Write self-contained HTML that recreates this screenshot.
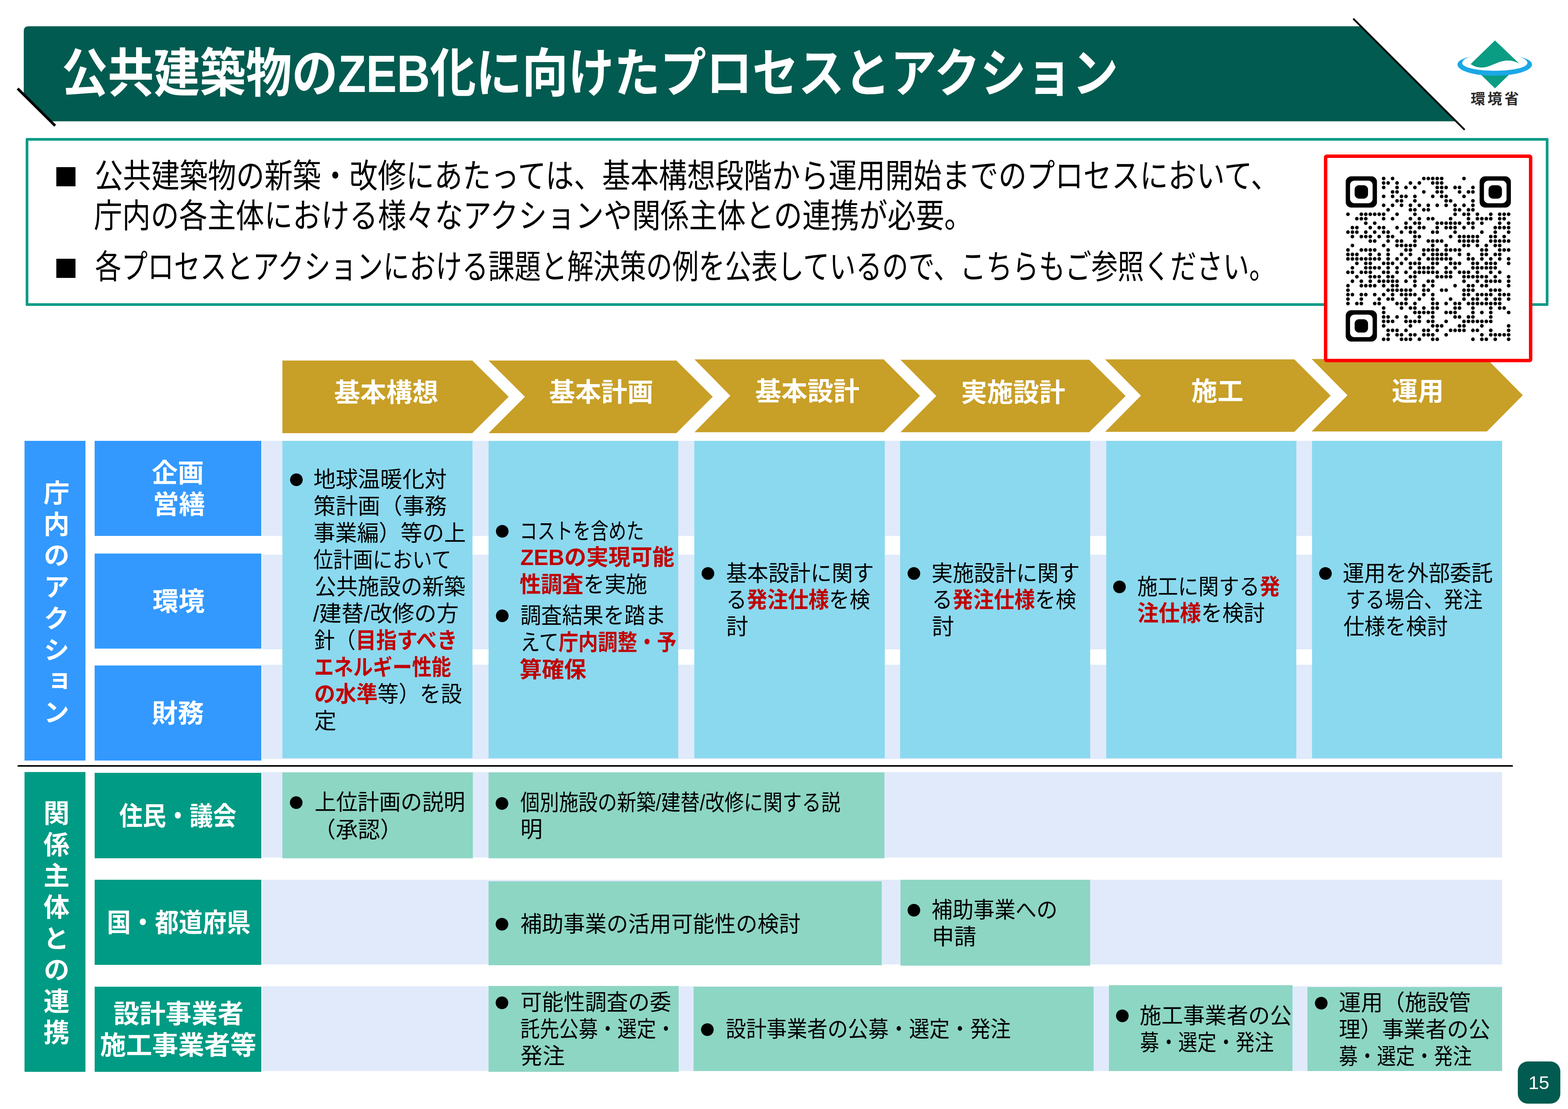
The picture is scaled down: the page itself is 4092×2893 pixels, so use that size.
<!DOCTYPE html>
<html lang="ja"><head><meta charset="utf-8"><title>公共建築物のZEB化に向けたプロセスとアクション</title>
<style>
html,body{margin:0;padding:0;background:#fff}
body{width:4092px;height:2893px;position:relative;overflow:hidden;font-family:"Liberation Sans",sans-serif}
#s div{position:absolute}
svg{position:absolute;left:0;top:0}
.pg{color:#fff;font-size:49px;line-height:110px;text-align:center}
#t span{position:absolute;white-space:pre;line-height:1;color:#000;font-family:"Liberation Sans","Noto Sans CJK JP",sans-serif;transform-origin:0 0}
#t b{color:#c00000;font-weight:700}
</style></head><body>
<div id="s">
<div style="left:67px;top:360px;width:3974px;height:438px;background:#fff;box-sizing:border-box;border:7px solid #0d9b87;border-radius:3px"></div>
<div style="left:146.5px;top:436px;width:50.0px;height:50px;background:#000;"></div>
<div style="left:146.5px;top:675px;width:50.0px;height:50px;background:#000;"></div>
<div style="left:64px;top:1150px;width:158.5px;height:833.5px;background:#3399ff;"></div>
<div style="left:246.5px;top:1150px;width:435.0px;height:247.5px;background:#3399ff;"></div>
<div style="left:246.5px;top:1443.5px;width:435.0px;height:248.0px;background:#3399ff;"></div>
<div style="left:246.5px;top:1736px;width:435.0px;height:247.5px;background:#3399ff;"></div>
<div style="left:684px;top:1150px;width:3236px;height:247.5px;background:#e0eafb;"></div>
<div style="left:684px;top:1447px;width:3236px;height:247px;background:#e0eafb;"></div>
<div style="left:684px;top:1733.5px;width:3236px;height:246.5px;background:#e0eafb;"></div>
<div style="left:737px;top:1150px;width:495.5px;height:827.5px;background:#8bd9ef;"></div>
<div style="left:1275px;top:1150px;width:495px;height:827.5px;background:#8bd9ef;"></div>
<div style="left:1811.5px;top:1150px;width:497.5px;height:827.5px;background:#8bd9ef;"></div>
<div style="left:2349px;top:1150px;width:496px;height:827.5px;background:#8bd9ef;"></div>
<div style="left:2886.5px;top:1150px;width:496.5px;height:827.5px;background:#8bd9ef;"></div>
<div style="left:3424px;top:1150px;width:496px;height:827.5px;background:#8bd9ef;"></div>
<div style="left:46px;top:1996px;width:3901.5px;height:3.7999999999999545px;background:#000;"></div>
<div style="left:64px;top:2014px;width:158.5px;height:782px;background:#009b84;"></div>
<div style="left:246.5px;top:2016px;width:435.0px;height:223px;background:#009b84;"></div>
<div style="left:246.5px;top:2295px;width:435.0px;height:222px;background:#009b84;"></div>
<div style="left:246.5px;top:2573.5px;width:435.0px;height:222.5px;background:#009b84;"></div>
<div style="left:684px;top:2014px;width:3236px;height:222.5px;background:#e0eafb;"></div>
<div style="left:684px;top:2295px;width:3236px;height:221px;background:#e0eafb;"></div>
<div style="left:684px;top:2572.5px;width:3236px;height:221.0px;background:#e0eafb;"></div>
<div style="left:737px;top:2015px;width:496.5px;height:223.5px;background:#8dd6c4;"></div>
<div style="left:1275px;top:2015px;width:1032.5px;height:224px;background:#8dd6c4;"></div>
<div style="left:1275px;top:2298.5px;width:1026px;height:219.0px;background:#8dd6c4;"></div>
<div style="left:2349.5px;top:2295px;width:495.5px;height:224px;background:#8dd6c4;"></div>
<div style="left:1275px;top:2572px;width:495.5px;height:224px;background:#8dd6c4;"></div>
<div style="left:1810px;top:2573.5px;width:1044px;height:220.0px;background:#8dd6c4;"></div>
<div style="left:2893.5px;top:2570px;width:479.0px;height:223.5px;background:#8dd6c4;"></div>
<div style="left:3411.5px;top:2575px;width:508.5px;height:218.5px;background:#8dd6c4;"></div>
<div class="pg" style="left:3960.5px;top:2768.5px;width:111px;height:110px;background:#025b50;border-radius:26px">15</div>
</div>
<svg width="4092" height="2893" viewBox="0 0 4092 2893">
<path fill="#025b50" d="M75 68.5H3551L3799.5 316.5H137L62 245.5V81.5Q62 68.5 75 68.5z"/>
<path stroke="#000" stroke-width="7" d="M46 231L144 328"/>
<path stroke="#000" stroke-width="4.7" d="M3531.6 48.7L3822.3 338.7"/>
<g><path fill="#0b9c84" d="M3901.4 105.4L3964.8 165.8C3950 158 3938 157.5 3927 158.5C3912 160 3896 170 3880 174.5C3866 178 3850 176 3838 167z"/><path fill="#0b9c84" d="M3862 192L3901.4 230.4L3941 192z"/><path fill="#1ba8e6" d="M3839.5 147.5C3812 153 3803.5 161 3803.5 168C3803.5 185 3847 197.5 3900.7 197.5C3954.4 197.5 3998 185 3998 168C3998 161 3989 153 3962 147.5C3980 152 3986 158.5 3986 164.5C3986 176 3948 184.5 3900.7 184.5C3853.4 184.5 3816 176 3816 164.5C3816 158.5 3822 152 3839.5 147.5z"/></g>
<path fill="#c89f27" d="M737 940.5L1232.5 940.5L1327.5 1035L1232.5 1130L737 1130z"/>
<path fill="#c89f27" d="M1275 940.5L1765 940.5L1860 1035L1765 1130L1275 1130L1370 1035z"/>
<path fill="#c89f27" d="M1812.5 937.5L2306 937.5L2401 1032.5L2306 1127.5L1812.5 1127.5L1906 1032.5z"/>
<path fill="#c89f27" d="M2350 938.5L2842.5 938.5L2937.5 1033L2842.5 1127.5L2350 1127.5L2443.5 1033z"/>
<path fill="#c89f27" d="M2884 937.5L3378 937.5L3472.5 1032L3378 1126.5L2884 1126.5L2977.5 1032z"/>
<path fill="#c89f27" d="M3423 936.5L3880.5 936.5L3974 1031L3880.5 1125.5L3423 1125.5L3516.5 1031z"/>
<rect x="3459.5" y="407.5" width="535" height="533" rx="3" fill="#fff" stroke="#ff0000" stroke-width="9"/>
<g><g transform="translate(3511.9 459.9) scale(11.6486)"><path transform="translate(.5 .5)" fill="none" stroke="#000" stroke-width="0.82" stroke-linecap="round" d="M8 0h0m2 0h0m7 0h0m1 0h0m1 0h0m1 0h0m1 0h0m5 0h0M8 1h0m1 0h0m2 0h0m3 0h0m2 0h0m3 0h0m1 0h0m1 0h0M8 2h0m3 0h0m2 0h0m2 0h0m5 0h0m1 0h0m1 0h0m2 0h0m1 0h0m3 0h0M10 3h0m1 0h0m6 0h0m3 0h0m1 0h0m4 0h0m2 0h0m1 0h0M8 4h0m2 0h0m2 0h0m1 0h0m2 0h0m4 0h0m2 0h0m1 0h0m4 0h0M11 5h0m1 0h0m3 0h0m7 0h0m1 0h0m5 0h0M8 6h0m2 0h0m2 0h0m2 0h0m2 0h0m2 0h0m2 0h0m2 0h0m2 0h0m2 0h0m2 0h0M9 7h0m5 0h0m1 0h0m2 0h0m1 0h0m6 0h0m1 0h0m2 0h0m1 0h0M0 8h0m3 0h0m1 0h0m1 0h0m1 0h0m1 0h0m1 0h0m3 0h0m4 0h0m9 0h0m2 0h0m1 0h0m2 0h0m3 0h0m2 0h0m1 0h0m1 0h0M2 9h0m1 0h0m1 0h0m4 0h0m2 0h0m4 0h0m2 0h0m2 0h0m1 0h0m4 0h0m4 0h0m2 0h0m1 0h0m1 0h0m1 0h0m2 0h0m1 0h0M4 10h0m2 0h0m7 0h0m2 0h0m1 0h0m4 0h0m1 0h0m1 0h0m1 0h0m1 0h0m1 0h0m2 0h0m1 0h0m2 0h0m4 0h0m2 0h0M1 11h0m1 0h0m3 0h0m2 0h0m1 0h0m3 0h0m2 0h0m1 0h0m2 0h0m1 0h0m3 0h0m2 0h0m1 0h0m1 0h0m2 0h0m2 0h0m5 0h0m1 0h0m1 0h0m1 0h0M0 12h0m1 0h0m1 0h0m2 0h0m2 0h0m2 0h0m1 0h0m3 0h0m2 0h0m1 0h0m4 0h0m1 0h0m4 0h0m6 0h0m3 0h0m3 0h0M1 13h0m2 0h0m1 0h0m1 0h0m2 0h0m2 0h0m1 0h0m5 0h0m1 0h0m7 0h0m2 0h0m1 0h0m1 0h0m1 0h0m1 0h0m3 0h0m1 0h0m2 0h0M5 14h0m1 0h0m3 0h0m2 0h0m1 0h0m3 0h0m3 0h0m1 0h0m1 0h0m1 0h0m4 0h0m1 0h0m1 0h0m1 0h0m1 0h0m3 0h0m1 0h0m1 0h0m1 0h0m1 0h0M1 15h0m7 0h0m3 0h0m1 0h0m1 0h0m1 0h0m1 0h0m4 0h0m3 0h0m4 0h0m1 0h0m2 0h0m2 0h0m2 0h0m1 0h0M0 16h0m3 0h0m1 0h0m1 0h0m1 0h0m3 0h0m4 0h0m1 0h0m3 0h0m1 0h0m1 0h0m1 0h0m2 0h0m1 0h0m1 0h0m1 0h0m5 0h0m1 0h0m3 0h0m1 0h0m1 0h0M0 17h0m1 0h0m1 0h0m3 0h0m2 0h0m2 0h0m3 0h0m2 0h0m3 0h0m2 0h0m1 0h0m1 0h0m1 0h0m3 0h0m2 0h0m3 0h0m1 0h0m2 0h0m1 0h0M0 18h0m1 0h0m1 0h0m1 0h0m1 0h0m1 0h0m1 0h0m1 0h0m2 0h0m2 0h0m2 0h0m3 0h0m2 0h0m1 0h0m1 0h0m1 0h0m1 0h0m1 0h0m4 0h0m1 0h0m2 0h0m2 0h0m2 0h0m2 0h0M2 19h0m2 0h0m1 0h0m3 0h0m1 0h0m1 0h0m2 0h0m2 0h0m1 0h0m1 0h0m3 0h0m1 0h0m3 0h0m1 0h0m1 0h0m3 0h0m1 0h0m2 0h0m1 0h0m1 0h0m3 0h0M1 20h0m3 0h0m1 0h0m1 0h0m1 0h0m2 0h0m2 0h0m3 0h0m2 0h0m1 0h0m1 0h0m1 0h0m3 0h0m2 0h0m4 0h0m1 0h0m1 0h0m1 0h0m1 0h0m1 0h0M0 21h0m1 0h0m2 0h0m1 0h0m1 0h0m3 0h0m1 0h0m2 0h0m2 0h0m2 0h0m1 0h0m1 0h0m1 0h0m1 0h0m1 0h0m2 0h0m1 0h0m2 0h0m1 0h0m1 0h0m2 0h0m3 0h0m2 0h0M2 22h0m3 0h0m1 0h0m1 0h0m2 0h0m1 0h0m4 0h0m1 0h0m5 0h0m1 0h0m1 0h0m1 0h0m3 0h0m1 0h0m1 0h0m1 0h0m1 0h0m1 0h0m2 0h0m3 0h0M1 23h0m2 0h0m2 0h0m2 0h0m1 0h0m1 0h0m1 0h0m1 0h0m2 0h0m2 0h0m3 0h0m1 0h0m7 0h0m3 0h0m2 0h0m1 0h0m1 0h0m1 0h0m2 0h0M0 24h0m3 0h0m1 0h0m1 0h0m1 0h0m2 0h0m2 0h0m1 0h0m4 0h0m2 0h0m2 0h0m5 0h0m3 0h0m1 0h0m2 0h0m1 0h0m5 0h0M0 25h0m9 0h0m1 0h0m1 0h0m1 0h0m1 0h0m1 0h0m3 0h0m1 0h0m3 0h0m1 0h0m4 0h0m1 0h0m1 0h0m4 0h0m1 0h0m1 0h0M0 26h0m1 0h0m2 0h0m1 0h0m2 0h0m2 0h0m2 0h0m2 0h0m1 0h0m1 0h0m1 0h0m2 0h0m2 0h0m7 0h0m1 0h0m2 0h0m1 0h0m1 0h0m1 0h0m2 0h0m1 0h0m1 0h0M0 27h0m3 0h0m4 0h0m2 0h0m1 0h0m3 0h0m3 0h0m3 0h0m4 0h0m3 0h0m2 0h0m1 0h0m2 0h0m2 0h0m1 0h0m2 0h0M0 28h0m2 0h0m1 0h0m3 0h0m1 0h0m4 0h0m1 0h0m1 0h0m2 0h0m4 0h0m1 0h0m2 0h0m2 0h0m1 0h0m2 0h0m1 0h0m1 0h0m1 0h0m1 0h0m1 0h0m1 0h0m1 0h0M8 29h0m4 0h0m2 0h0m1 0h0m2 0h0m2 0h0m1 0h0m4 0h0m1 0h0m3 0h0m4 0h0m2 0h0m1 0h0M8 30h0m7 0h0m1 0h0m1 0h0m1 0h0m1 0h0m3 0h0m1 0h0m1 0h0m4 0h0m2 0h0m2 0h0m4 0h0M8 31h0m1 0h0m2 0h0m2 0h0m3 0h0m3 0h0m5 0h0m1 0h0m2 0h0m1 0h0m4 0h0M8 32h0m1 0h0m1 0h0m3 0h0m1 0h0m1 0h0m1 0h0m2 0h0m1 0h0m3 0h0m4 0h0m1 0h0m1 0h0m1 0h0m1 0h0m1 0h0m1 0h0M8 33h0m6 0h0m5 0h0m1 0h0m1 0h0m4 0h0m1 0h0m4 0h0m6 0h0M9 34h0m1 0h0m1 0h0m2 0h0m4 0h0m1 0h0m2 0h0m3 0h0m1 0h0m1 0h0m1 0h0m2 0h0m1 0h0m3 0h0m4 0h0M9 35h0m2 0h0m1 0h0m2 0h0m1 0h0m2 0h0m1 0h0m1 0h0m3 0h0m8 0h0m2 0h0m1 0h0m1 0h0m1 0h0m1 0h0M8 36h0m1 0h0m3 0h0m1 0h0m1 0h0m2 0h0m3 0h0m1 0h0m8 0h0m2 0h0m1 0h0m2 0h0m3 0h0"/><rect x="0" y="0" width="7" height="7" rx="1.25"/><rect x="0.97" y="0.97" width="5.06" height="5.06" rx="1" fill="#fff"/><rect x="2" y="2" width="3" height="3" rx="1"/><rect x="30" y="0" width="7" height="7" rx="1.25"/><rect x="30.97" y="0.97" width="5.06" height="5.06" rx="1" fill="#fff"/><rect x="32" y="2" width="3" height="3" rx="1"/><rect x="0" y="30" width="7" height="7" rx="1.25"/><rect x="0.97" y="30.97" width="5.06" height="5.06" rx="1" fill="#fff"/><rect x="2" y="32" width="3" height="3" rx="1"/></g></g>
<g fill="#000"><circle cx="773.5" cy="1251.5" r="16.5"/><circle cx="1310.7" cy="1386" r="16.5"/><circle cx="1310.7" cy="1606.4" r="16.5"/><circle cx="1847.5" cy="1496" r="16.5"/><circle cx="2385" cy="1496" r="16.5"/><circle cx="2921.5" cy="1531" r="16.5"/><circle cx="3459" cy="1496" r="16.5"/><circle cx="773" cy="2093.75" r="16.5"/><circle cx="1310" cy="2096" r="16.5"/><circle cx="1310" cy="2411" r="16.5"/><circle cx="2385" cy="2374.5" r="16.5"/><circle cx="1310" cy="2616" r="16.5"/><circle cx="1846" cy="2686" r="16.5"/><circle cx="2929" cy="2650" r="16.5"/><circle cx="3448" cy="2617" r="16.5"/></g>
</svg>
<div id="t">
<span style="left:161px;top:124px;font-size:137px;font-weight:700;color:#fff;transform:scaleX(0.877)">公共建築物のZEB化に向けたプロセスとアクション</span>
<span style="left:3838px;top:239px;font-size:38px;font-weight:700;color:#2b2b2b;letter-spacing:6px">環境省</span>
<span style="left:247px;top:416px;font-size:87px;transform:scaleX(0.849)">公共建築物の新築・改修にあたっては、基本構想段階から運用開始までのプロセスにおいて、</span>
<span style="left:245px;top:520px;font-size:87px;transform:scaleX(0.852)">庁内の各主体における様々なアクションや関係主体との連携が必要。</span>
<span style="left:248px;top:653px;font-size:87px;transform:scaleX(0.789)">各プロセスとアクションにおける課題と解決策の例を公表しているので、こちらもご参照ください。</span>
<span style="left:872px;top:990px;font-size:68px;font-weight:700;color:#fff">基本構想</span>
<span style="left:1433px;top:989px;font-size:68px;font-weight:700;color:#fff">基本計画</span>
<span style="left:1971px;top:987px;font-size:68px;font-weight:700;color:#fff">基本設計</span>
<span style="left:2508px;top:990px;font-size:68px;font-weight:700;color:#fff">実施設計</span>
<span style="left:3109px;top:987px;font-size:68px;font-weight:700;color:#fff">施工</span>
<span style="left:3632px;top:987px;font-size:68px;font-weight:700;color:#fff">運用</span>
<span style="left:396px;top:1200px;font-size:68px;font-weight:700;color:#fff">企画</span>
<span style="left:399px;top:1282px;font-size:68px;font-weight:700;color:#fff">営繕</span>
<span style="left:398px;top:1535px;font-size:68px;font-weight:700;color:#fff">環境</span>
<span style="left:396px;top:1827px;font-size:68px;font-weight:700;color:#fff">財務</span>
<span style="left:311px;top:2095px;font-size:68px;font-weight:700;color:#fff;transform:scaleX(0.9)">住民・議会</span>
<span style="left:279px;top:2373px;font-size:68px;font-weight:700;color:#fff;transform:scaleX(0.919)">国・都道府県</span>
<span style="left:296px;top:2611px;font-size:68px;font-weight:700;color:#fff">設計事業者</span>
<span style="left:261px;top:2693px;font-size:68px;font-weight:700;color:#fff">施工事業者等</span>
<span style="left:108px;top:1251px;font-size:68px;font-weight:700;color:#fff;writing-mode:vertical-rl;letter-spacing:13.8px">庁内のアクション</span>
<span style="left:108px;top:2086px;font-size:68px;font-weight:700;color:#fff;writing-mode:vertical-rl;letter-spacing:13.8px">関係主体との連携</span>
<span style="left:818px;top:1222px;font-size:58px">地球温暖化対</span>
<span style="left:818px;top:1292px;font-size:58px">策計画（事務</span>
<span style="left:818px;top:1362px;font-size:58px;transform:scaleX(0.98)">事業編）等の上</span>
<span style="left:818px;top:1432px;font-size:58px;transform:scaleX(0.89)">位計画において</span>
<span style="left:821px;top:1502px;font-size:58px;transform:scaleX(0.97)">公共施設の新築</span>
<span style="left:817px;top:1572px;font-size:58px">/建替/改修の方</span>
<span style="left:820px;top:1642px;font-size:58px;transform:scaleX(0.93)">針（<b>目指すべき</b></span>
<span style="left:820px;top:1712px;font-size:58px;transform:scaleX(0.88)"><b>エネルギー性能</b></span>
<span style="left:820px;top:1782px;font-size:58px;transform:scaleX(0.95)"><b>の水準</b>等）を設</span>
<span style="left:820px;top:1852px;font-size:58px">定</span>
<span style="left:1356px;top:1357px;font-size:58px;transform:scaleX(0.8)">コストを含めた</span>
<span style="left:1358px;top:1425px;font-size:58px;transform:scaleX(0.99)"><b>ZEBの実現可能</b></span>
<span style="left:1356px;top:1496px;font-size:58px;transform:scaleX(0.957)"><b>性調査</b>を実施</span>
<span style="left:1358px;top:1577px;font-size:58px;transform:scaleX(0.936)">調査結果を踏ま</span>
<span style="left:1358px;top:1647px;font-size:58px;transform:scaleX(0.884)">えて<b>庁内調整・予</b></span>
<span style="left:1356px;top:1718px;font-size:58px"><b>算確保</b></span>
<span style="left:1895px;top:1467px;font-size:58px;transform:scaleX(0.95)">基本設計に関す</span>
<span style="left:1895px;top:1536px;font-size:58px;transform:scaleX(0.926)">る<b>発注仕様</b>を検</span>
<span style="left:1895px;top:1606px;font-size:58px">討</span>
<span style="left:2431px;top:1467px;font-size:58px;transform:scaleX(0.953)">実施設計に関す</span>
<span style="left:2432px;top:1536px;font-size:58px;transform:scaleX(0.928)">る<b>発注仕様</b>を検</span>
<span style="left:2432px;top:1606px;font-size:58px">討</span>
<span style="left:2968px;top:1502px;font-size:58px;transform:scaleX(0.917)">施工に関する<b>発</b></span>
<span style="left:2968px;top:1571px;font-size:58px;transform:scaleX(0.957)"><b>注仕様</b>を検討</span>
<span style="left:3504px;top:1467px;font-size:58px;transform:scaleX(0.965)">運用を外部委託</span>
<span style="left:3512px;top:1536px;font-size:58px;transform:scaleX(0.88)">する場合、発注</span>
<span style="left:3506px;top:1606px;font-size:58px;transform:scaleX(0.94)">仕様を検討</span>
<span style="left:821px;top:2064px;font-size:58px;transform:scaleX(0.968)">上位計画の説明</span>
<span style="left:818px;top:2136px;font-size:58px">（承認）</span>
<span style="left:1358px;top:2065px;font-size:58px;transform:scaleX(0.87)">個別施設の新築/建替/改修に関する説</span>
<span style="left:1358px;top:2135px;font-size:58px">明</span>
<span style="left:1358px;top:2382px;font-size:58px;transform:scaleX(0.97)">補助事業の活用可能性の検討</span>
<span style="left:2431px;top:2345px;font-size:58px;transform:scaleX(0.945)">補助事業への</span>
<span style="left:2432px;top:2415px;font-size:58px">申請</span>
<span style="left:1358px;top:2586px;font-size:58px;transform:scaleX(0.97)">可能性調査の委</span>
<span style="left:1358px;top:2656px;font-size:58px;transform:scaleX(0.873)">託先公募・選定・</span>
<span style="left:1358px;top:2726px;font-size:58px">発注</span>
<span style="left:1894px;top:2656px;font-size:58px;transform:scaleX(0.916)">設計事業者の公募・選定・発注</span>
<span style="left:2974px;top:2621px;font-size:58px;transform:scaleX(0.978)">施工事業者の公</span>
<span style="left:2975px;top:2691px;font-size:58px;transform:scaleX(0.86)">募・選定・発注</span>
<span style="left:3494px;top:2587px;font-size:58px;transform:scaleX(0.99)">運用（施設管</span>
<span style="left:3494px;top:2657px;font-size:58px;transform:scaleX(0.973)">理）事業者の公</span>
<span style="left:3494px;top:2727px;font-size:58px;transform:scaleX(0.855)">募・選定・発注</span>
</div>
</body></html>
